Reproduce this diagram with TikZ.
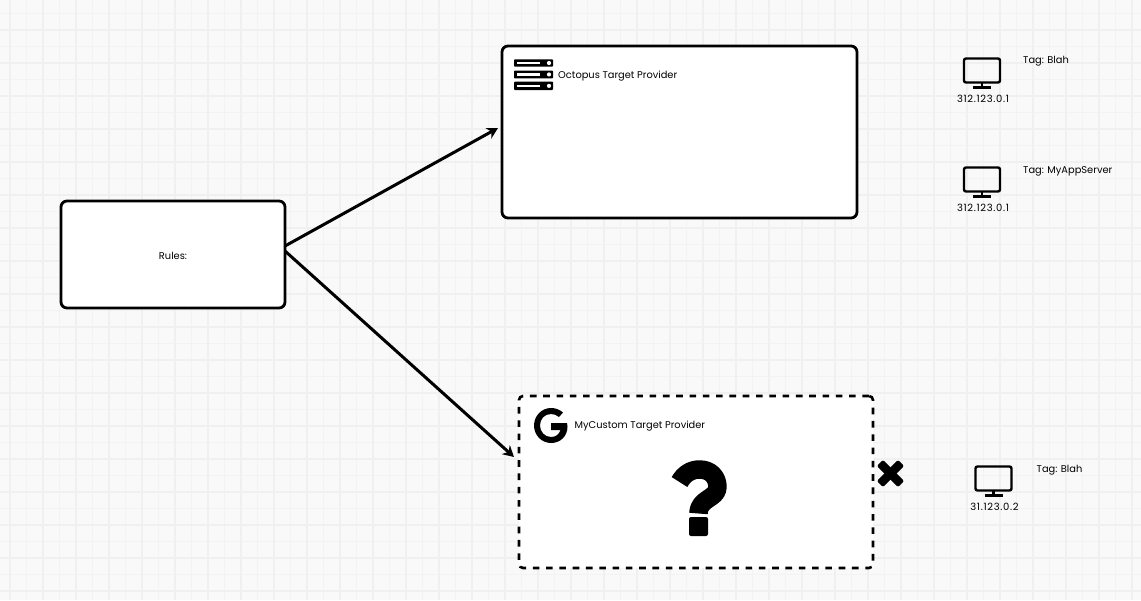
\documentclass[tikz,border=0pt]{standalone}
\usepackage{fontspec}
\setmainfont{Poppins}
\newfontfamily\ipfont[LetterSpace=6.5]{Poppins}
\usetikzlibrary{arrows.meta,calc}
\definecolor{bgc}{HTML}{F9F9F9}
\definecolor{gmaj}{HTML}{F0F0F0}
\definecolor{gmin}{HTML}{F3F3F3}
\tikzset{
  card/.style={draw=black,fill=white,rounded corners=6pt,line width=2.8pt,inner sep=0pt,outer sep=0pt,anchor=north west},
  dashcard/.style={card,line width=2.6pt,dash pattern=on 6.6pt off 6.7pt,rounded corners=4pt},
  flow/.style={line width=3pt,-{Stealth[length=11pt,width=12pt]}},
  lbl/.style={font=\fontsize{9.85}{11}\selectfont,inner sep=0pt,text=black},
  lblw/.style={lbl,anchor=west},
  iplbl/.style={font=\ipfont\fontsize{10}{11}\selectfont,inner sep=0pt,text=black},
  icon/.style={line width=2.4pt,draw=black,rounded corners=2pt},
  crossarm/.style={fill=black,rounded corners=2pt},
}
\newcommand{\monitorat}[4]{% x, y (top-left), ip, name
  \draw[icon] (#1,#2) rectangle ++(36,24);
  \draw[line width=2.4pt] (#1+18,#2+24) -- ++(0,4.5);
  \draw[line width=2.6pt] (#1+9,#2+28.7) -- ++(18,0);
  \node[iplbl] (#4) at (#1+19,#2+40.2) {#3};
}
\newcommand{\serverbar}[2]{% y top, height
  \fill[black,rounded corners=0.8pt] (514,#1) rectangle (553,#1+#2);
  \fill[white] (516.5,#1+#2/2-1.2) rectangle (540,#1+#2/2+1.2);
  \fill[white] (549,#1+#2/2) circle[radius=2.1];
}
\begin{document}
\begin{tikzpicture}[x=1pt,y=-1pt]
\useasboundingbox (0,0) rectangle (1141,600);
\fill[bgc] (0,0) rectangle (1141,600);
% grid
\foreach \i in {0,...,34} {
  \draw[gmin,line width=1pt] (26.5+33*\i,0) -- (26.5+33*\i,600);
}
\foreach \i in {0,...,17} {
  \draw[gmin,line width=1pt] (0,13.5+33*\i) -- (1141,13.5+33*\i);
}
\foreach \i in {0,...,34} {
  \draw[gmaj,line width=1.6pt] (10+33*\i,0) -- (10+33*\i,600);
}
\foreach \i in {0,...,17} {
  \draw[gmaj,line width=1.6pt] (0,30+33*\i) -- (1141,30+33*\i);
}
% cards
\node[card,minimum width=224pt,minimum height=107pt] (rules) at (61,201) {};
\node[card,minimum width=355pt,minimum height=172pt] (octo) at (502,46) {};
\node[dashcard,minimum width=354pt,minimum height=172pt] (custom) at (519,396) {};
\node[lbl] (ruleslabel) at (173,255.5) {Rules:};
% connectors
\coordinate (r1) at ($(rules.east)+(0,-8.5)$);
\coordinate (r2) at ($(rules.east)+(0,-3.5)$);
\coordinate (o1) at (498,128);
\coordinate (c1) at (514,457);
\draw[flow] (r1) -- (o1);
\draw[flow] (r2) -- (c1);
% server icon
\serverbar{59.3}{7.4}
\serverbar{70.5}{7.9}
\serverbar{81.7}{8.3}
\node[lblw] (octolabel) at (558,76.5) {Octopus Target Provider};
% G icon
\fill[black,even odd rule]
  (563,412.5) .. controls (559.5,409.5) and (555.5,408) .. (551,408)
  .. controls (541.5,408) and (534,416) .. (534,425.5)
  .. controls (534,435) and (541.5,443) .. (551,443)
  .. controls (560.5,443) and (567.5,436) .. (567.5,426.5)
  .. controls (567.5,425.5) and (567.5,424.5) .. (567,423)
  -- (551,423) -- (551,430) -- (560.5,430)
  .. controls (559,434.5) and (555.5,437) .. (551,437)
  .. controls (544.5,437) and (540,431.5) .. (540,425.5)
  .. controls (540,419) and (544.5,414) .. (551,414)
  .. controls (554,414) and (556.5,415) .. (559,417) -- cycle;
\node[lblw] (customlabel) at (574.5,426.5) {MyCustom Target Provider};
% question mark
\draw[black,line width=18.5pt,line join=round]
  (679.5,482) .. controls (684,474) and (691,469.5) .. (699.5,469.5)
  .. controls (710.5,469.5) and (717.5,477) .. (717.5,487)
  .. controls (717.5,499) and (698.5,498) .. (698.5,513.5);
\fill[black,rounded corners=2pt] (689,517) rectangle (708,536);
% cross
\begin{scope}[shift={(890.5,473.5)},rotate=45]
  \fill[crossarm] (-15,-4.3) rectangle (15,4.3);
  \fill[crossarm] (-4.3,-15) rectangle (4.3,15);
\end{scope}
% monitors
\monitorat{964}{58.5}{312.123.0.1}{ip1}
\monitorat{964}{167.5}{312.123.0.1}{ip2}
\monitorat{975.5}{466.5}{31.123.0.2}{ip3}
\node[lblw] (t1) at (1023,61) {Tag: Blah};
\node[lblw] (t2) at (1023,171) {Tag: MyAppServer};
\node[lblw] (t3) at (1036.5,470) {Tag: Blah};
\end{tikzpicture}
\end{document}
